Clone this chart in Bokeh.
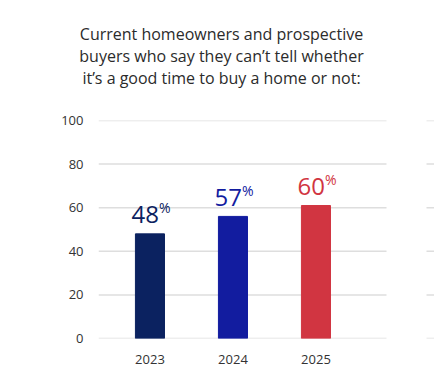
from bokeh.plotting import figure
from bokeh.models import Range1d, FixedTicker, ColumnDataSource
from bokeh.layouts import column
from bokeh.core.properties import value
from bokeh.embed import file_html
from bokeh.resources import INLINE

# ---- data ----
years = ["2023", "2024", "2025"]
bar_values = [48, 56, 61]          # bar heights as drawn
label_values = ["48", "57", "60"]  # printed labels
colors = ["#0b2260", "#121c9f", "#d13541"]
title_lines = [
    "Current homeowners and prospective",
    "buyers who say they can\u2019t tell whether",
    "it\u2019s a good time to buy a home or not:",
]
y_ticks = [0, 20, 40, 60, 80, 100]

FONT = "Open Sans"
TEXT = "#2b2b2b"
W = 434
LEFT = 98

# ---- title block ----
TH = 100
tf = figure(width=W, height=TH, output_backend="svg", toolbar_location=None,
            x_range=Range1d(0, W), y_range=Range1d(TH, 0),
            x_axis_type=None, y_axis_type=None,
            min_border_left=0, min_border_right=0,
            min_border_top=0, min_border_bottom=0)
tf.grid.visible = False
tf.outline_line_color = None
tsrc = ColumnDataSource(dict(
    x=[221] * len(title_lines),
    y=[33 + 22 * i for i in range(len(title_lines))],
    text=title_lines,
))
tf.text(x="x", y="y", text="text", source=tsrc, text_font=value(FONT),
        text_font_size="16px", text_color=TEXT, text_align="center",
        text_baseline="middle")

# ---- chart ----
xs = list(range(1, len(years) + 1))
px_per_unit = 218 / 100.0
pad = 19.0 / px_per_unit
src = ColumnDataSource(dict(
    x=xs, top=bar_values, color=colors, label=label_values,
    ly=[v + pad for v in bar_values],
    py=[v + pad + 7.0 / px_per_unit for v in bar_values],
    pct=["%"] * len(years),
))

XS, XU = 0.38, 83.0       # x range start, px per unit
x_end = XS + (W - LEFT) / XU
p = figure(width=W, height=386 - TH, output_backend="svg", toolbar_location=None,
           x_range=Range1d(XS, x_end), y_range=Range1d(0, 100),
           min_border_left=LEFT, min_border_right=0, min_border_top=20,
           min_border_bottom=48)
p.outline_line_color = None

# grid lines (two pieces, as in the original)
g1_end = XS + (386 - LEFT) / XU
g2_start = XS + (426 - LEFT) / XU
p.segment(x0=[XS] * len(y_ticks), x1=[g1_end] * len(y_ticks), y0=y_ticks, y1=y_ticks,
          line_color="#dedede", line_width=1.5)
p.segment(x0=[g2_start] * len(y_ticks), x1=[x_end] * len(y_ticks), y0=y_ticks, y1=y_ticks,
          line_color="#dedede", line_width=1.5)

p.vbar(x="x", top="top", width=0.35, bottom=0, color="color", source=src)

p.text(x="x", y="ly", text="label", text_color="color", source=src,
       text_font=value(FONT), text_font_size="24px", text_align="right",
       text_baseline="alphabetic", x_offset=9)
p.text(x="x", y="py", text="pct", text_color="color", source=src,
       text_font=value(FONT), text_font_size="14px", text_align="left",
       text_baseline="alphabetic", x_offset=9)

p.yaxis.ticker = FixedTicker(ticks=y_ticks)
p.xaxis.ticker = FixedTicker(ticks=xs)
p.xaxis.major_label_overrides = {x: y for x, y in zip(xs, years)}
for ax in (p.xaxis, p.yaxis):
    ax.axis_line_color = None
    ax.major_tick_line_color = None
    ax.minor_tick_line_color = None
    ax.major_tick_out = 0
    ax.major_tick_in = 0
    ax.major_label_text_font = FONT
    ax.major_label_text_font_size = "13px"
    ax.major_label_text_color = "#333333"
p.yaxis.major_label_standoff = 15
p.xaxis.major_label_standoff = 16
p.grid.visible = False

layout = column(column(tf), p, spacing=0)
open("out.html", "w").write(file_html(layout, INLINE))
